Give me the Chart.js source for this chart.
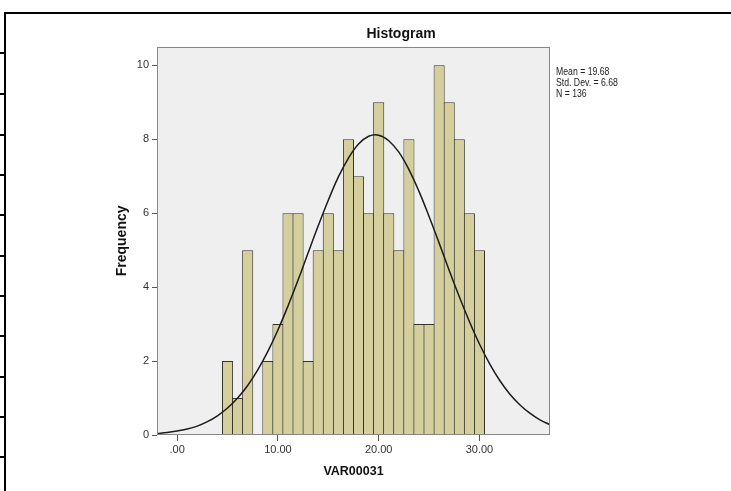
<!DOCTYPE html>
<html>
<head>
<meta charset="utf-8">
<script src="https://cdn.jsdelivr.net/npm/chart.js@4.4.1/dist/chart.umd.min.js"></script>
<style>
  body { margin: 0; background: #fff; }
  #wrap { position: relative; width: 731px; height: 491px; overflow: hidden; }
  #hist { position: absolute; left: 0; top: 0; }
  .rule { position: absolute; background: #000; }
</style>
</head>
<body>
<div id="wrap">
  <canvas id="hist" width="731" height="491"></canvas>
  <div class="rule" style="left:4px;top:12px;width:727px;height:2px"></div>
  <div class="rule" style="left:4px;top:12px;width:2px;height:479px"></div>
  <div class="rule" style="left:0;top:52px;width:5px;height:2px"></div>
  <div class="rule" style="left:0;top:93px;width:5px;height:2px"></div>
  <div class="rule" style="left:0;top:134px;width:5px;height:2px"></div>
  <div class="rule" style="left:0;top:174px;width:5px;height:2px"></div>
  <div class="rule" style="left:0;top:214px;width:5px;height:2px"></div>
  <div class="rule" style="left:0;top:255px;width:5px;height:2px"></div>
  <div class="rule" style="left:0;top:295px;width:5px;height:2px"></div>
  <div class="rule" style="left:0;top:335px;width:5px;height:2px"></div>
  <div class="rule" style="left:0;top:376px;width:5px;height:2px"></div>
  <div class="rule" style="left:0;top:416px;width:5px;height:2px"></div>
  <div class="rule" style="left:0;top:456px;width:5px;height:2px"></div>
</div>
<script>
// histogram bins (width 1)
let binCenters = [5, 6, 7, 8, 9, 10, 11, 12, 13, 14, 15, 16, 17, 18, 19, 20, 21, 22, 23, 24, 25, 26, 27, 28, 29, 30];
let counts = [2, 1, 5, 0, 2, 3, 6, 6, 2, 5, 6, 5, 8, 7, 6, 9, 6, 5, 8, 3, 3, 10, 9, 8, 6, 5];

// normal curve, height read at each whole x
let curveX = [-2, -1, 0, 1, 2, 3, 4, 5, 6, 7, 8, 9, 10, 11, 12, 13, 14, 15, 16, 17, 18, 19, 20, 21, 22, 23, 24, 25, 26, 27, 28, 29, 30, 31, 32, 33, 34, 35, 36, 37];
let curveY = [0.04, 0.07, 0.11, 0.16, 0.24, 0.36, 0.52, 0.73, 1.0, 1.34, 1.76, 2.26, 2.84, 3.49, 4.19, 4.93, 5.66, 6.35, 6.98, 7.49, 7.87, 8.08, 8.11, 7.96, 7.65, 7.18, 6.59, 5.91, 5.19, 4.45, 3.74, 3.07, 2.46, 1.93, 1.48, 1.11, 0.82, 0.59, 0.41, 0.28];

let xTicks = [0, 10, 20, 30];
let yTicks = [0, 2, 4, 6, 8, 10];
let statsLines = ["Mean = 19.68", "Std. Dev. = 6.68", "N = 136"];

Chart.defaults.font.family = "'Liberation Sans', Arial, sans-serif";

let barPoints = binCenters.map((x, i) => ({ x: x, y: counts[i] }));
let curvePoints = curveX.map((x, i) => ({ x: x, y: curveY[i] }));

const framePlugin = {
  id: "frame",
  beforeDatasetsDraw(chart) {
    let a = chart.chartArea;
    let ctx = chart.ctx;
    ctx.save();
    ctx.fillStyle = "#efefef";
    ctx.fillRect(a.left, a.top, a.right - a.left, a.bottom - a.top);
    ctx.restore();
  },
  afterDatasetsDraw(chart) {
    let a = chart.chartArea;
    let ctx = chart.ctx;
    ctx.save();
    ctx.strokeStyle = "#878787";
    ctx.lineWidth = 1;
    let l = Math.round(a.left) + 0.5, t = Math.round(a.top) + 0.5;
    let r = Math.round(a.right) - 0.5, b = Math.round(a.bottom) - 0.5;
    ctx.strokeRect(l, t, r - l, b - t);
    ctx.fillStyle = "#222";
    ctx.font = "11px 'Liberation Sans', sans-serif";
    ctx.textBaseline = "middle";
    statsLines.forEach((s, i) => {
      ctx.save();
      ctx.translate(a.right + 6, a.top + 25 + i * 11);
      ctx.scale(0.79, 1);
      ctx.fillText(s, 0, 0);
      ctx.restore();
    });
    ctx.restore();
  }
};

let ctx = document.getElementById("hist");
new Chart(ctx, {
  type: "bar",
  data: {
    datasets: [
      {
        type: "line",
        data: curvePoints,
        borderColor: "#1c1c1c",
        borderWidth: 1.5,
        pointRadius: 0,
        tension: 0.4,
        fill: false,
        order: 0
      },
      {
        type: "bar",
        data: barPoints,
        backgroundColor: "#d4cf9c",
        borderColor: "#35352b",
        borderWidth: 1,
        borderSkipped: "start",
        inflateAmount: 0,
        barPercentage: 1.1,
        categoryPercentage: 1,
        order: 1
      }
    ]
  },
  options: {
    responsive: false,
    animation: false,
    devicePixelRatio: 1,
    layout: { padding: { left: 114, right: 43, top: 0, bottom: 12 } },
    plugins: {
      legend: { display: false },
      tooltip: { enabled: false },
      title: {
        display: true,
        text: "Histogram",
        color: "#111",
        font: { size: 14, weight: "bold" },
        padding: { top: 26, bottom: 4 }
      }
    },
    scales: {
      x: {
        type: "linear",
        min: -2,
        max: 37,
        offset: false,
        afterBuildTicks: (s) => { s.ticks = xTicks.map((v) => ({ value: v })); },
        afterFit: (s) => { s.height = 44; },
        grid: { offset: false, drawOnChartArea: false, tickLength: 6, color: "#555" },
        border: { display: false },
        ticks: {
          callback: (v) => (v === 0 ? ".00" : v.toFixed(2)),
          color: "#333",
          font: { size: 11 },
          padding: 2,
          maxRotation: 0,
          autoSkip: false
        },
        title: {
          display: true,
          text: "VAR00031",
          color: "#111",
          font: { size: 12.5, weight: "bold" },
          padding: 0
        }
      },
      y: {
        min: 0,
        max: 10.5,
        afterBuildTicks: (s) => { s.ticks = yTicks.map((v) => ({ value: v })); },
        afterFit: (s) => { s.width = 43; },
        grid: { drawOnChartArea: false, tickLength: 5, color: "#555" },
        border: { display: false },
        ticks: { color: "#333", font: { size: 11 }, padding: 3 },
        title: {
          display: true,
          text: "Frequency",
          color: "#111",
          font: { size: 14, weight: "bold" },
          padding: 0
        }
      },
      yR: {
        position: "right",
        display: true,
        afterFit: (s) => { s.width = 138; },
        grid: { display: false },
        border: { display: false },
        ticks: { display: false }
      }
    }
  },
  plugins: [framePlugin]
});
</script>
</body>
</html>
